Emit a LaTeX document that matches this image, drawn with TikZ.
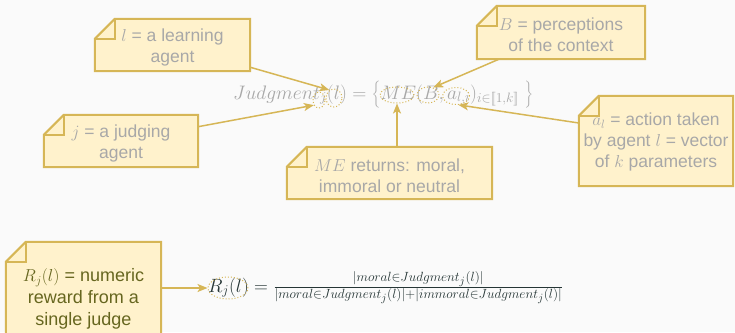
\documentclass[tikz,border=0pt]{standalone}
\usepackage[no-math]{fontspec}
\setmainfont{Liberation Sans}
\usetikzlibrary{shapes.geometric,arrows.meta,backgrounds,calc}

\definecolor{pagebg}{HTML}{FAFAFA}
\definecolor{notefill}{HTML}{FFF2CC}
\definecolor{notestroke}{HTML}{D6B656}
\definecolor{fadedtext}{HTML}{A8A8A8}
\definecolor{olivetext}{HTML}{66661F}
\definecolor{formulatext}{HTML}{253535}

\tikzset{
  notebox/.style={inner sep=0pt},
  notetext/.style={inner sep=0pt, align=center, text=fadedtext,
    font=\fontsize{17.5}{21}\selectfont},
  noteshape/.style={fill=notefill, draw=notestroke, line width=2pt, line join=miter},
  focus/.style={ellipse, draw=notestroke, dotted, line width=1pt, inner sep=0pt},
  pointer/.style={draw=notestroke, line width=1.5pt,
    -{Stealth[length=10pt,width=8pt,inset=2.5pt]}},
}

\begin{document}
\begin{tikzpicture}[x=1pt,y=-1pt]
  \useasboundingbox (0,0) rectangle (735,332);
  \clip (0,0) rectangle (735,332);

  % sticky notes: the boxes, then their text
  \node[notebox, minimum width=155pt, minimum height=52pt] (nl) at (172.5,45) {};
  \node[notebox, minimum width=168pt, minimum height=53pt] (nB) at (561,32.5) {};
  \node[notebox, minimum width=154pt, minimum height=90pt] (na) at (656,141) {};
  \node[notebox, minimum width=154pt, minimum height=52pt] (nj) at (121,141) {};
  \node[notebox, minimum width=205pt, minimum height=52pt] (nME) at (389.5,173) {};
  \node[notebox, minimum width=155pt, minimum height=114pt] (nR) at (83.5,299) {};

  \node[notetext] (tl) at ([yshift=-2.5pt]nl) {$l$ = a learning\\agent};
  \node[notetext] (tB) at ([yshift=-2.5pt]nB) {$B$ = perceptions\\of the context};
  \node[notetext] (ta) at ([yshift=-1pt]na) {$a_l$ = action taken\\by agent $l$ = vector\\of $k$ parameters};
  \node[notetext] (tj) at ([yshift=-2.5pt]nj) {$j$ = a judging\\agent};
  \node[notetext] (tME) at ([yshift=-2.5pt]nME) {$ME$ returns: moral,\\immoral or neutral};
  \node[notetext, text=olivetext, font=\fontsize{18}{22}\selectfont] (tR) at ([yshift=0pt]nR)
    {$R_j(l)$ = numeric\\reward from a\\single judge};

  % judgment formula
  \node[anchor=base west, inner sep=0pt, text=fadedtext,
        font=\fontsize{17.28}{21}\selectfont] (judg) at (233,99)
    {\scalebox{1.13}{$Judgment_j(l) = \left\{ME(B, a_{l,i})_{i\in[\![1,k]\!]}\;\right\}$}};

  % reward formula
  \node[anchor=base west, inner sep=0pt, text=formulatext,
        font=\fontsize{17.28}{21}\selectfont] (rform) at (208,292)
    {\scalebox{1.11}{$R_j(l) = \frac{|moral\in Judgment_j(l)|}{|moral\in Judgment_j(l)|+|immoral\in Judgment_j(l)|}$}};

  % dotted highlights around formula terms
  \node[focus, minimum width=12pt, minimum height=16pt] (ej) at (319,100) {};
  \node[focus, minimum width=16pt, minimum height=18pt] (el) at (334,98) {};
  \node[focus, minimum width=34pt, minimum height=16pt] (eME) at (397,95) {};
  \node[focus, minimum width=22pt, minimum height=16pt] (eB) at (428,95) {};
  \node[focus, minimum width=27pt, minimum height=17pt] (ea) at (456,96) {};
  \node[focus, minimum width=40pt, minimum height=22pt] (eR) at (228,288) {};

  % pointers from notes to terms
  \draw[pointer] (nl) -- (el.120);
  \draw[pointer] (nj) -- (ej.225);
  \draw[pointer] (nB) -- (eB.55);
  \draw[pointer] (nME.north -| eME.south) -- (eME.south);
  \draw[pointer] ([yshift=18pt]na.west) -- (ea.-75);
  \draw[pointer] (nR.east |- eR.west) -- (eR.west);

  \begin{scope}[on background layer]
    \fill[pagebg] (0,0) rectangle (735,332);
    \foreach \n in {nl,nB,na,nj,nME,nR} {
      \filldraw[noteshape] ([yshift=-20pt]\n.north west) -- ([xshift=20pt]\n.north west)
        -- (\n.north east) -- (\n.south east) -- (\n.south west) -- cycle;
      \draw[noteshape, fill=none] ([xshift=20pt]\n.north west) -- ++(0pt,-20pt)
        -- ([yshift=-20pt]\n.north west);
    }
  \end{scope}
\end{tikzpicture}
\end{document}
